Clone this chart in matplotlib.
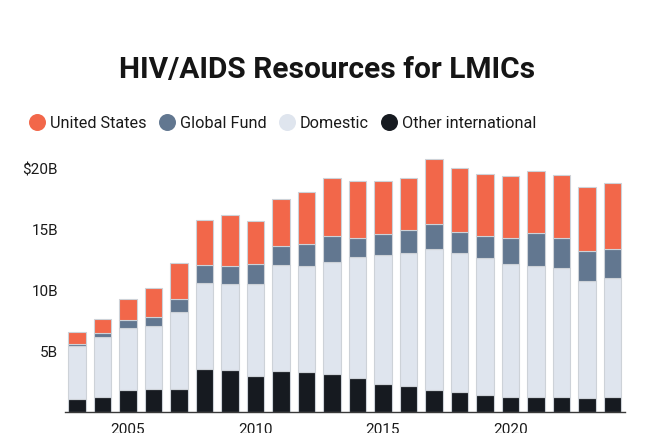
import matplotlib
matplotlib.use("Agg")
import matplotlib.pyplot as plt
from matplotlib.lines import Line2D
from matplotlib.ticker import FuncFormatter
import numpy as np

years = list(range(2003, 2025))
other_intl = [1.12, 1.29, 1.81, 1.95, 1.95, 3.59, 3.45, 2.96, 3.37, 3.34, 3.12,
              2.79, 2.33, 2.14, 1.84, 1.67, 1.45, 1.29, 1.29, 1.23, 1.21, 1.29]
domestic = [4.33, 4.90, 5.15, 5.15, 6.30, 7.01, 7.10, 7.59, 8.77, 8.71, 9.26,
            9.98, 10.57, 10.96, 11.56, 11.45, 11.23, 10.93, 10.76, 10.61, 9.56, 9.78]
global_fund = [0.17, 0.36, 0.60, 0.71, 1.09, 1.48, 1.45, 1.61, 1.50, 1.79, 2.14,
               1.53, 1.78, 1.89, 2.08, 1.67, 1.79, 2.08, 2.69, 2.52, 2.46, 2.33]
united_states = [0.98, 1.09, 1.78, 2.38, 2.91, 3.76, 4.25, 3.57, 3.89, 4.30, 4.71,
                 4.71, 4.31, 4.30, 5.34, 5.29, 5.09, 5.12, 5.12, 5.12, 5.26, 5.42]
xticks = [2005, 2010, 2015, 2020]
yticks = [5, 10, 15, 20]

colors = {
    "United States": "#F2674A",
    "Global Fund": "#627790",
    "Domestic": "#DFE5EE",
    "Other international": "#161A20",
}

plt.rcParams['font.family'] = ['Roboto', 'DejaVu Sans']

fig = plt.figure(figsize=(6.5, 4.33), dpi=100)
ax = fig.add_axes([65 / 650, 1 - 412.3 / 433, 560 / 650, (412.3 - 144.8) / 433])

bottom = np.zeros(len(years))
series = [("Other international", other_intl), ("Domestic", domestic),
          ("Global Fund", global_fund), ("United States", united_states)]
for name, vals in series:
    ax.bar(years, vals, width=0.68, bottom=bottom, color=colors[name],
           edgecolor="#CDD2D8", linewidth=0.8)
    bottom += np.array(vals)

ax.set_xlim(2002.53, 2024.49)
ax.set_ylim(0, 22)
ax.set_xticks(xticks)
ax.set_yticks(yticks)
ax.yaxis.set_major_formatter(FuncFormatter(lambda v, p: f"${v:.0f}B" if v == 20 else f"{v:.0f}B"))
for s in ["top", "right", "left"]:
    ax.spines[s].set_visible(False)
ax.spines["bottom"].set_color("#3A3A3A")
ax.spines["bottom"].set_linewidth(1.0)
ax.tick_params(axis="y", length=0, pad=5, labelsize=11, labelcolor="#1A1A1A")
ax.tick_params(axis="x", length=0, pad=8, labelsize=11, labelcolor="#1A1A1A")

fig.text(327 / 650, 1 - 78.3 / 433, "HIV/AIDS Resources for LMICs", ha="center", va="baseline",
         fontsize=21.5, fontweight="bold", color="#151515")

handles = [Line2D([], [], marker="o", linestyle="none", markersize=11.2,
                  markerfacecolor=colors[n], markeredgecolor=colors[n]) for n in colors]
fig.legend(handles, list(colors), loc="center left", bbox_to_anchor=(22.3 / 650, 1 - 123.5 / 433),
           ncol=4, frameon=False, fontsize=11.7, handlelength=0.82, handletextpad=0.4,
           columnspacing=0.82, borderpad=0, labelcolor="#1A1A1A")

fig.savefig("out.png", dpi=100)
